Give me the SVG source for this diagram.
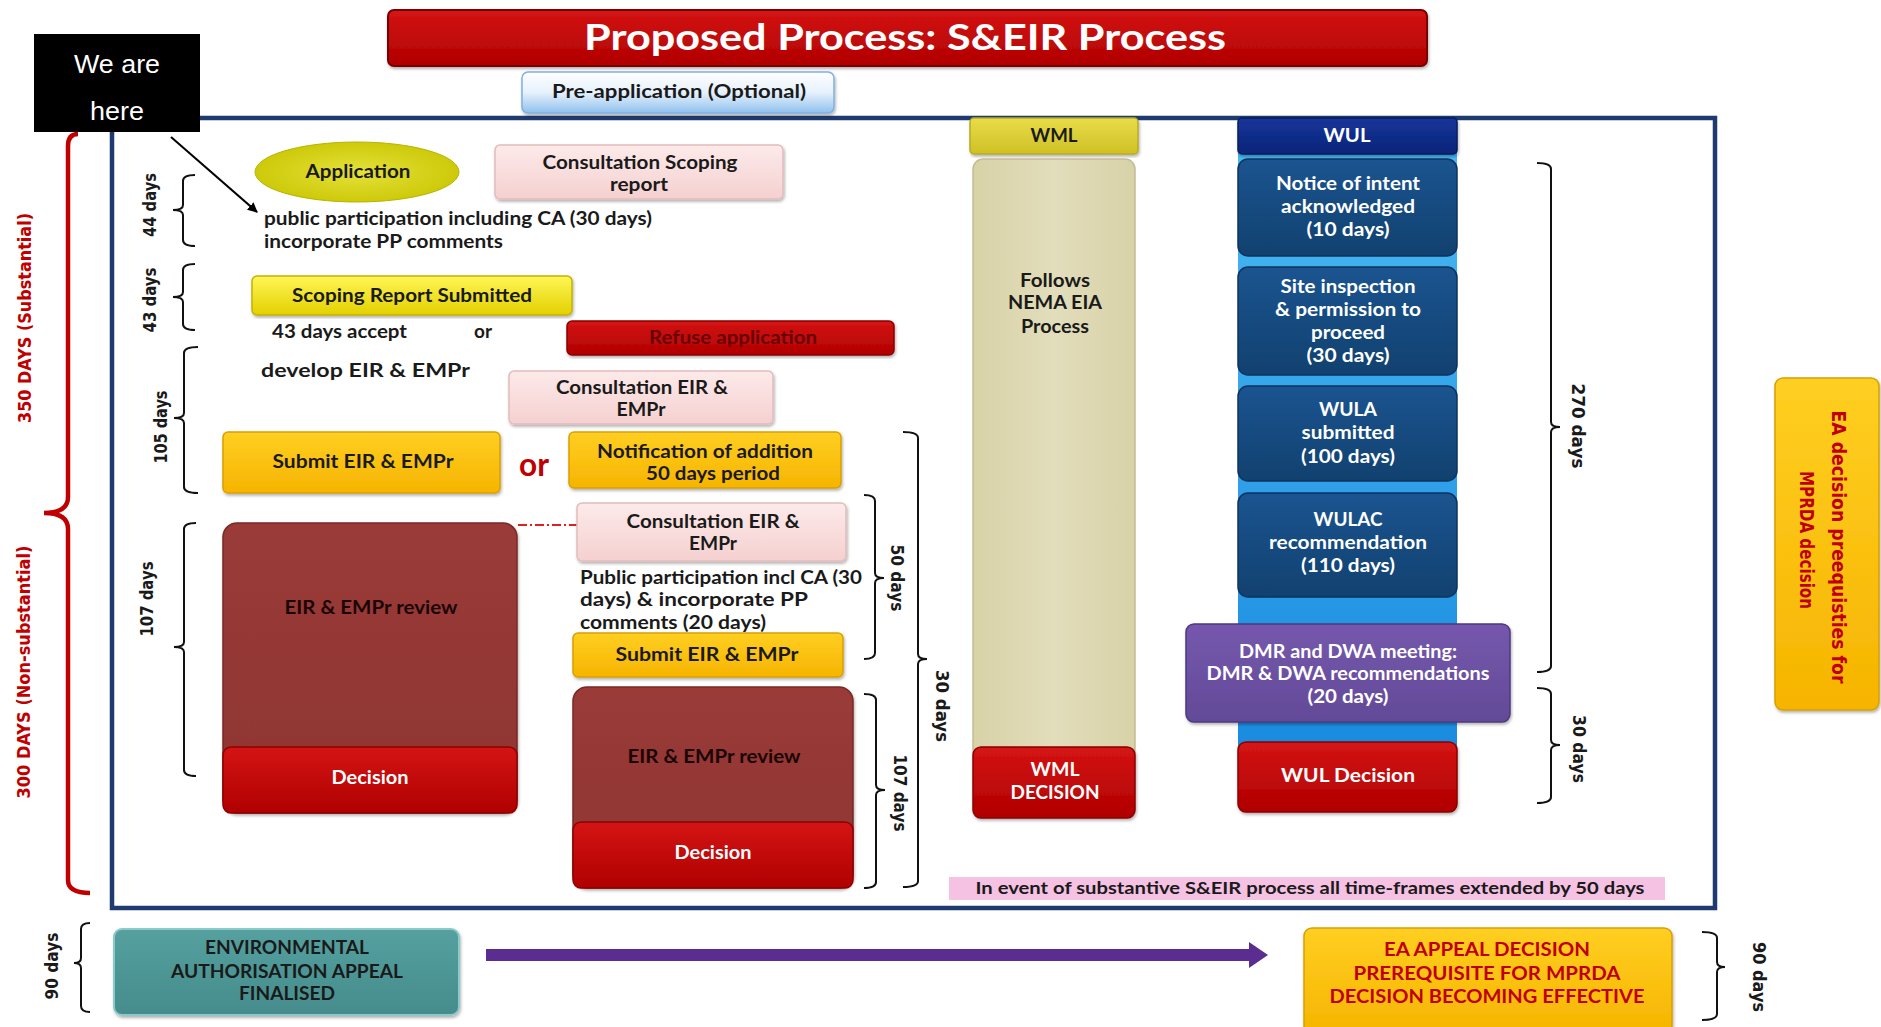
<svg xmlns="http://www.w3.org/2000/svg" width="1881" height="1027" viewBox="0 0 1881 1027">
<defs>
<style>
.t{font-family:Lato,"Open Sans","Liberation Sans",sans-serif;font-weight:700;font-size:18px;fill:#1a1a1a;text-anchor:middle}
.v{font-family:"DejaVu Sans",Verdana,sans-serif;font-weight:700;font-size:17px;fill:#1a1a1a;text-anchor:middle}
.s{text-anchor:start}
.w{fill:#ffffff}
.r{fill:#c00000}
.br{fill:none;stroke:#111;stroke-width:2}
.pink{fill:url(#gPink);stroke:#e2bcbc;stroke-width:1.5}
.org{fill:url(#gOrange);stroke:#d9a000;stroke-width:1.5}
.red{fill:url(#gRed);stroke:#8e0000;stroke-width:1.5}
.navy{fill:url(#gNavy);stroke:#0c3360;stroke-width:1.5}
</style>
<linearGradient id="gRed" x1="0" y1="0" x2="0" y2="1"><stop offset="0" stop-color="#d41414"/><stop offset="1" stop-color="#b00000"/></linearGradient>
<linearGradient id="gPink" x1="0" y1="0" x2="0" y2="1"><stop offset="0" stop-color="#fdeaea"/><stop offset="1" stop-color="#f5d0d0"/></linearGradient>
<linearGradient id="gYellow" x1="0" y1="0" x2="0" y2="1"><stop offset="0" stop-color="#fff656"/><stop offset="1" stop-color="#e3d000"/></linearGradient>
<linearGradient id="gOrange" x1="0" y1="0" x2="0" y2="1"><stop offset="0" stop-color="#ffcf22"/><stop offset="1" stop-color="#f6b400"/></linearGradient>
<linearGradient id="gPre" x1="0" y1="0" x2="0" y2="1"><stop offset="0" stop-color="#ffffff"/><stop offset="0.5" stop-color="#e6f1fc"/><stop offset="1" stop-color="#8fc0ee"/></linearGradient>
<radialGradient id="gApp" cx="0.5" cy="0.5" r="0.6"><stop offset="0" stop-color="#e4e23a"/><stop offset="1" stop-color="#c9c400"/></radialGradient>
<linearGradient id="gNavy" x1="0" y1="0" x2="0" y2="1"><stop offset="0" stop-color="#1b5490"/><stop offset="1" stop-color="#11416f"/></linearGradient>
<linearGradient id="gWulBg" x1="0" y1="0" x2="0" y2="1"><stop offset="0" stop-color="#48b8f2"/><stop offset="1" stop-color="#1a8ce0"/></linearGradient>
<linearGradient id="gWulH" x1="0" y1="0" x2="0" y2="1"><stop offset="0" stop-color="#16359a"/><stop offset="1" stop-color="#0a2478"/></linearGradient>
<linearGradient id="gWmlH" x1="0" y1="0" x2="0" y2="1"><stop offset="0" stop-color="#e8dc4a"/><stop offset="1" stop-color="#cfc024"/></linearGradient>
<linearGradient id="gBeige" x1="0" y1="0" x2="1" y2="0"><stop offset="0" stop-color="#d8d2a8"/><stop offset="0.5" stop-color="#e2ddbb"/><stop offset="1" stop-color="#d8d2a8"/></linearGradient>
<linearGradient id="gBrown" x1="0" y1="0" x2="0" y2="1"><stop offset="0" stop-color="#9a3b38"/><stop offset="1" stop-color="#8e3532"/></linearGradient>
<linearGradient id="gPurple" x1="0" y1="0" x2="0" y2="1"><stop offset="0" stop-color="#7558ad"/><stop offset="1" stop-color="#634a98"/></linearGradient>
<linearGradient id="gTeal" x1="0" y1="0" x2="0" y2="1"><stop offset="0" stop-color="#55a0a0"/><stop offset="1" stop-color="#468c8c"/></linearGradient>
<marker id="ah" markerWidth="10" markerHeight="10" refX="9" refY="5" orient="auto" markerUnits="userSpaceOnUse"><path d="M0,0 L10,5 L0,10 z" fill="#000"/></marker>
<filter id="sh" x="-5%" y="-5%" width="110%" height="115%"><feDropShadow dx="1" dy="2" stdDeviation="1.5" flood-color="#000" flood-opacity="0.3"/></filter>
</defs>
<rect x="0" y="0" width="1881" height="1027" fill="#ffffff"/>

<!-- main frame -->
<rect id="frame" x="112" y="118" width="1603" height="790" fill="none" stroke="#1f3a6e" stroke-width="4.5"/>

<!-- title -->
<g id="title">
<rect x="388" y="10" width="1039" height="56" rx="6" fill="url(#gRed)" stroke="#7a0000" stroke-width="2" filter="url(#sh)"/>
<text class="t w" x="905" y="50" style="font-size:36px" textLength="642" lengthAdjust="spacingAndGlyphs">Proposed Process:  S&amp;EIR Process</text>
</g>

<!-- we are here -->
<g id="we-are-here">
<rect x="34" y="34" width="166" height="98" fill="#000"/>
<text x="117" y="73" style="font-family:'Liberation Sans',Arial,sans-serif;font-size:26px;fill:#fff;text-anchor:middle" textLength="86" lengthAdjust="spacingAndGlyphs">We are</text>
<text x="117" y="120" style="font-family:'Liberation Sans',Arial,sans-serif;font-size:26px;fill:#fff;text-anchor:middle" textLength="54" lengthAdjust="spacingAndGlyphs">here</text>
</g>

<!-- pre-application -->
<g id="pre-application">
<rect x="522" y="72" width="312" height="41" rx="6" fill="url(#gPre)" stroke="#7fb0e0" stroke-width="1.5" filter="url(#sh)"/>
<text class="t" x="679" y="98" textLength="254" lengthAdjust="spacingAndGlyphs">Pre-application (Optional)</text>
</g>

<!-- left red brace -->
<g id="brace-350-300">
<path d="M78,134 Q68,134 68,146 V497 Q68,513 44,513 Q68,513 68,529 V880 Q68,893 90,893" fill="none" stroke="#c00000" stroke-width="4.5"/>
<text class="v r" transform="translate(25,318) rotate(-90)" y="6" textLength="210" lengthAdjust="spacingAndGlyphs">350 DAYS (Substantial)</text>
<text class="v r" transform="translate(24,672) rotate(-90)" y="6" textLength="253" lengthAdjust="spacingAndGlyphs">300 DAYS (Non-substantial)</text>
</g>

<!-- connectors -->
<g id="connectors">
<line x1="171" y1="137" x2="257" y2="212" stroke="#000" stroke-width="2" marker-end="url(#ah)"/>
<line x1="518" y1="525" x2="577" y2="525" stroke="#e02020" stroke-width="2" stroke-dasharray="9,3,2,3"/>
<rect x="486" y="949" width="764" height="12" fill="#5c2d91"/>
<polygon points="1249,942 1268,955 1249,968" fill="#5c2d91"/>
</g>

<!-- left brackets -->
<g id="bracket-44">
<path class="br" d="M195,175 Q183,175 183,181 V205 Q183,210 173,210 Q183,210 183,215 V240 Q183,246 195,246"/>
<text class="v" transform="translate(150,205) rotate(-90)" y="6" textLength="64" lengthAdjust="spacingAndGlyphs">44 days</text>
</g>
<g id="bracket-43">
<path class="br" d="M195,264 Q183,264 183,270 V292 Q183,297 173,297 Q183,297 183,302 V324 Q183,330 195,330"/>
<text class="v" transform="translate(150,300) rotate(-90)" y="6" textLength="65" lengthAdjust="spacingAndGlyphs">43 days</text>
</g>
<g id="bracket-105">
<path class="br" d="M198,347 Q184,347 184,353 V413 Q184,418 174,418 Q184,418 184,423 V487 Q184,493 198,493"/>
<text class="v" transform="translate(161,427) rotate(-90)" y="6" textLength="73" lengthAdjust="spacingAndGlyphs">105 days</text>
</g>
<g id="bracket-107-left">
<path class="br" d="M196,523 Q184,523 184,529 V642 Q184,647 174,647 Q184,647 184,652 V770 Q184,776 196,776"/>
<text class="v" transform="translate(147,599) rotate(-90)" y="6" textLength="75" lengthAdjust="spacingAndGlyphs">107 days</text>
</g>

<!-- right brackets -->
<g id="bracket-50">
<path class="br" d="M864,495 Q875,495 875,501 V573 Q875,578 884,578 Q875,578 875,583 V653 Q875,659 864,659"/>
<text class="v" transform="translate(897,578) rotate(90)" y="6" textLength="67" lengthAdjust="spacingAndGlyphs">50 days</text>
</g>
<g id="bracket-30-mid">
<path class="br" d="M903,432 Q918,432 918,438 V654 Q918,659 927,659 Q918,659 918,664 V881 Q918,887 903,887"/>
<text class="v" transform="translate(942,706) rotate(90)" y="6" textLength="72" lengthAdjust="spacingAndGlyphs">30 days</text>
</g>
<g id="bracket-107-right">
<path class="br" d="M864,694 Q876,694 876,700 V785 Q876,790 885,790 Q876,790 876,795 V882 Q876,888 864,888"/>
<text class="v" transform="translate(900,793) rotate(90)" y="6" textLength="77" lengthAdjust="spacingAndGlyphs">107 days</text>
</g>
<g id="bracket-270">
<path class="br" d="M1537,163 Q1551,163 1551,169 V422 Q1551,427 1560,427 Q1551,427 1551,432 V666 Q1551,672 1537,672"/>
<text class="v" transform="translate(1578,426) rotate(90)" y="6" textLength="85" lengthAdjust="spacingAndGlyphs">270 days</text>
</g>
<g id="bracket-30-wul">
<path class="br" d="M1537,688 Q1551,688 1551,694 V740 Q1551,745 1560,745 Q1551,745 1551,750 V797 Q1551,803 1537,803"/>
<text class="v" transform="translate(1579,749) rotate(90)" y="6" textLength="68" lengthAdjust="spacingAndGlyphs">30 days</text>
</g>
<g id="bracket-90-left">
<path class="br" d="M90,923 Q81,923 81,929 V958 Q81,963 74,963 Q81,963 81,968 V1006 Q81,1012 90,1012"/>
<text class="v" transform="translate(52,966) rotate(-90)" y="6" textLength="67" lengthAdjust="spacingAndGlyphs">90 days</text>
</g>
<g id="bracket-90-right">
<path class="br" d="M1702,932 Q1717,932 1717,938 V962 Q1717,967 1725,967 Q1717,967 1717,972 V1014 Q1717,1020 1702,1020"/>
<text class="v" transform="translate(1759,977) rotate(90)" y="6" textLength="70" lengthAdjust="spacingAndGlyphs">90 days</text>
</g>

<!-- left column nodes -->
<g id="application">
<ellipse cx="357" cy="172" rx="102" ry="30" fill="url(#gApp)" stroke="#b8b400" stroke-width="1"/>
<text class="t" x="358" y="178" textLength="105" lengthAdjust="spacingAndGlyphs">Application</text>
</g>
<g id="consultation-scoping">
<rect class="pink" x="495" y="145" width="288" height="54" rx="5" filter="url(#sh)"/>
<text class="t" x="640" y="169" textLength="195" lengthAdjust="spacingAndGlyphs">Consultation Scoping</text>
<text class="t" x="639" y="191" textLength="58" lengthAdjust="spacingAndGlyphs">report</text>
</g>
<g id="pp-text">
<text class="t s" x="264" y="225" textLength="388" lengthAdjust="spacingAndGlyphs">public participation including CA (30 days)</text>
<text class="t s" x="264" y="248" textLength="239" lengthAdjust="spacingAndGlyphs">incorporate PP comments</text>
</g>
<g id="scoping-submitted">
<rect x="252" y="276" width="320" height="39" rx="5" fill="url(#gYellow)" stroke="#c4b200" stroke-width="1.5" filter="url(#sh)"/>
<text class="t" x="412" y="302" textLength="240" lengthAdjust="spacingAndGlyphs">Scoping Report Submitted</text>
</g>
<g id="accept-text">
<text class="t s" x="272" y="338" textLength="135" lengthAdjust="spacingAndGlyphs">43 days accept</text>
<text class="t s" x="474" y="338" textLength="18" lengthAdjust="spacingAndGlyphs">or</text>
</g>
<g id="refuse">
<rect class="red" x="567" y="321" width="327" height="34" rx="5" filter="url(#sh)"/>
<text class="t" x="733" y="344" style="fill:#6a0000" textLength="168" lengthAdjust="spacingAndGlyphs">Refuse application</text>
</g>
<g id="develop-text">
<text class="t s" x="261" y="377" textLength="209" lengthAdjust="spacingAndGlyphs">develop EIR &amp; EMPr</text>
</g>
<g id="consultation-eir-1">
<rect class="pink" x="509" y="371" width="264" height="53" rx="5" filter="url(#sh)"/>
<text class="t" x="642" y="394" textLength="172" lengthAdjust="spacingAndGlyphs">Consultation EIR &amp;</text>
<text class="t" x="641" y="416" textLength="49" lengthAdjust="spacingAndGlyphs">EMPr</text>
</g>
<g id="submit-eir-1">
<rect class="org" x="223" y="432" width="277" height="61" rx="5" filter="url(#sh)"/>
<text class="t" x="363" y="468" textLength="181" lengthAdjust="spacingAndGlyphs">Submit EIR &amp; EMPr</text>
</g>
<g id="or-red">
<text class="t r" x="534" y="476" style="font-size:32px" textLength="30" lengthAdjust="spacingAndGlyphs">or</text>
</g>
<g id="notification">
<rect class="org" x="569" y="432" width="272" height="56" rx="5" filter="url(#sh)"/>
<text class="t" x="705" y="458" textLength="216" lengthAdjust="spacingAndGlyphs">Notification of addition</text>
<text class="t" x="713" y="480" textLength="134" lengthAdjust="spacingAndGlyphs">50 days period</text>
</g>
<g id="review-left">
<rect x="223" y="523" width="294" height="290" rx="14" fill="url(#gBrown)" stroke="#7a2a28" stroke-width="1.5" filter="url(#sh)"/>
<text class="t" x="371" y="614" style="fill:#1a0505" textLength="173" lengthAdjust="spacingAndGlyphs">EIR &amp; EMPr review</text>
<rect class="red" x="223" y="747" width="294" height="66" rx="8"/>
<text class="t w" x="370" y="784" textLength="77" lengthAdjust="spacingAndGlyphs">Decision</text>
</g>
<g id="consultation-eir-2">
<rect class="pink" x="577" y="503" width="269" height="58" rx="5" filter="url(#sh)"/>
<text class="t" x="713" y="528" textLength="173" lengthAdjust="spacingAndGlyphs">Consultation EIR &amp;</text>
<text class="t" x="713" y="550" textLength="48" lengthAdjust="spacingAndGlyphs">EMPr</text>
</g>
<g id="pp-text-2">
<text class="t s" x="580" y="584" textLength="282" lengthAdjust="spacingAndGlyphs">Public participation incl CA (30</text>
<text class="t s" x="580" y="606" textLength="228" lengthAdjust="spacingAndGlyphs">days)   &amp;  incorporate PP</text>
<text class="t s" x="580" y="629" textLength="186" lengthAdjust="spacingAndGlyphs">comments (20 days)</text>
</g>
<g id="submit-eir-2">
<rect class="org" x="573" y="633" width="270" height="44" rx="5" filter="url(#sh)"/>
<text class="t" x="707" y="661" textLength="183" lengthAdjust="spacingAndGlyphs">Submit EIR &amp; EMPr</text>
</g>
<g id="review-right">
<rect x="573" y="687" width="280" height="201" rx="14" fill="url(#gBrown)" stroke="#7a2a28" stroke-width="1.5" filter="url(#sh)"/>
<text class="t" x="714" y="763" style="fill:#1a0505" textLength="173" lengthAdjust="spacingAndGlyphs">EIR &amp; EMPr review</text>
<rect class="red" x="573" y="822" width="280" height="66" rx="8"/>
<text class="t w" x="713" y="859" textLength="77" lengthAdjust="spacingAndGlyphs">Decision</text>
</g>

<!-- WML column -->
<g id="wml">
<rect x="970" y="118" width="168" height="36" rx="4" fill="url(#gWmlH)" stroke="#b8aa20" stroke-width="1.5" filter="url(#sh)"/>
<text class="t" x="1054" y="142" textLength="47" lengthAdjust="spacingAndGlyphs">WML</text>
<rect x="973" y="159" width="162" height="600" rx="10" fill="url(#gBeige)" stroke="#c4bc92" stroke-width="1.5"/>
<text class="t" x="1055" y="287" textLength="70" lengthAdjust="spacingAndGlyphs">Follows</text>
<text class="t" x="1055" y="309" textLength="94" lengthAdjust="spacingAndGlyphs">NEMA EIA</text>
<text class="t" x="1055" y="333" textLength="68" lengthAdjust="spacingAndGlyphs">Process</text>
</g>
<g id="wml-decision">
<rect class="red" x="973" y="747" width="162" height="71" rx="8" filter="url(#sh)"/>
<text class="t w" x="1055" y="776" textLength="49" lengthAdjust="spacingAndGlyphs">WML</text>
<text class="t w" x="1055" y="799" textLength="89" lengthAdjust="spacingAndGlyphs">DECISION</text>
</g>

<!-- WUL column -->
<g id="wul">
<rect x="1238" y="150" width="219" height="600" fill="url(#gWulBg)"/>
<rect x="1238" y="118" width="219" height="36" rx="4" fill="url(#gWulH)" stroke="#071c60" stroke-width="1.5" filter="url(#sh)"/>
<text class="t w" x="1347" y="142" textLength="47" lengthAdjust="spacingAndGlyphs">WUL</text>
</g>
<g id="notice">
<rect class="navy" x="1238" y="159" width="219" height="97" rx="10"/>
<text class="t w" x="1348" y="190" textLength="144" lengthAdjust="spacingAndGlyphs">Notice of intent</text>
<text class="t w" x="1348" y="213" textLength="134" lengthAdjust="spacingAndGlyphs">acknowledged</text>
<text class="t w" x="1348" y="236" textLength="83" lengthAdjust="spacingAndGlyphs">(10 days)</text>
</g>
<g id="site-inspection">
<rect class="navy" x="1238" y="267" width="219" height="108" rx="10"/>
<text class="t w" x="1348" y="293" textLength="135" lengthAdjust="spacingAndGlyphs">Site inspection</text>
<text class="t w" x="1348" y="316" textLength="146" lengthAdjust="spacingAndGlyphs">&amp; permission to</text>
<text class="t w" x="1348" y="339" textLength="74" lengthAdjust="spacingAndGlyphs">proceed</text>
<text class="t w" x="1348" y="362" textLength="83" lengthAdjust="spacingAndGlyphs">(30 days)</text>
</g>
<g id="wula">
<rect class="navy" x="1238" y="386" width="219" height="95" rx="10"/>
<text class="t w" x="1348" y="416" textLength="58" lengthAdjust="spacingAndGlyphs">WULA</text>
<text class="t w" x="1348" y="439" textLength="93" lengthAdjust="spacingAndGlyphs">submitted</text>
<text class="t w" x="1348" y="463" textLength="94" lengthAdjust="spacingAndGlyphs">(100 days)</text>
</g>
<g id="wulac">
<rect class="navy" x="1238" y="493" width="219" height="104" rx="10"/>
<text class="t w" x="1348" y="526" textLength="69" lengthAdjust="spacingAndGlyphs">WULAC</text>
<text class="t w" x="1348" y="549" textLength="158" lengthAdjust="spacingAndGlyphs">recommendation</text>
<text class="t w" x="1348" y="572" textLength="94" lengthAdjust="spacingAndGlyphs">(110 days)</text>
</g>
<g id="dmr-dwa">
<rect x="1186" y="624" width="324" height="98" rx="8" fill="url(#gPurple)" stroke="#4e3880" stroke-width="1.5" filter="url(#sh)"/>
<text class="t w" x="1348" y="658" textLength="218" lengthAdjust="spacingAndGlyphs">DMR and DWA meeting:</text>
<text class="t w" x="1348" y="680" textLength="283" lengthAdjust="spacingAndGlyphs">DMR &amp; DWA recommendations</text>
<text class="t w" x="1348" y="703" textLength="81" lengthAdjust="spacingAndGlyphs">(20 days)</text>
</g>
<g id="wul-decision">
<rect class="red" x="1238" y="742" width="219" height="70" rx="8" filter="url(#sh)"/>
<text class="t w" x="1348" y="782" textLength="134" lengthAdjust="spacingAndGlyphs">WUL Decision</text>
</g>

<!-- EA decision box right -->
<g id="ea-prereq">
<rect class="org" x="1775" y="378" width="104" height="332" rx="8" filter="url(#sh)"/>
<text class="v r" transform="translate(1839,547) rotate(90)" y="7" style="font-size:19px" textLength="273" lengthAdjust="spacingAndGlyphs">EA decision preequisties for</text>
<text class="v r" transform="translate(1807,540) rotate(90)" y="7" style="font-size:19px" textLength="138" lengthAdjust="spacingAndGlyphs">MPRDA decision</text>
</g>

<!-- note -->
<g id="note">
<rect x="949" y="877" width="716" height="23" fill="#f6c2e4"/>
<text class="t" x="1310" y="894" style="font-size:17px" textLength="669" lengthAdjust="spacingAndGlyphs">In event of substantive S&amp;EIR process all time-frames extended by 50 days</text>
</g>

<!-- bottom -->
<g id="ea-appeal-finalised">
<rect x="114" y="929" width="345" height="86" rx="8" fill="url(#gTeal)" stroke="#8ccaca" stroke-width="2" filter="url(#sh)"/>
<text class="t" x="287" y="954" textLength="164" lengthAdjust="spacingAndGlyphs">ENVIRONMENTAL</text>
<text class="t" x="287" y="978" textLength="232" lengthAdjust="spacingAndGlyphs">AUTHORISATION APPEAL</text>
<text class="t" x="287" y="1000" textLength="96" lengthAdjust="spacingAndGlyphs">FINALISED</text>
</g>
<g id="ea-appeal-decision">
<rect class="org" x="1304" y="928" width="368" height="106" rx="8" filter="url(#sh)"/>
<text class="t r" x="1487" y="956" textLength="206" lengthAdjust="spacingAndGlyphs">EA APPEAL DECISION</text>
<text class="t r" x="1487" y="980" textLength="267" lengthAdjust="spacingAndGlyphs">PREREQUISITE FOR MPRDA</text>
<text class="t r" x="1487" y="1003" textLength="315" lengthAdjust="spacingAndGlyphs">DECISION BECOMING EFFECTIVE</text>
</g>
</svg>
